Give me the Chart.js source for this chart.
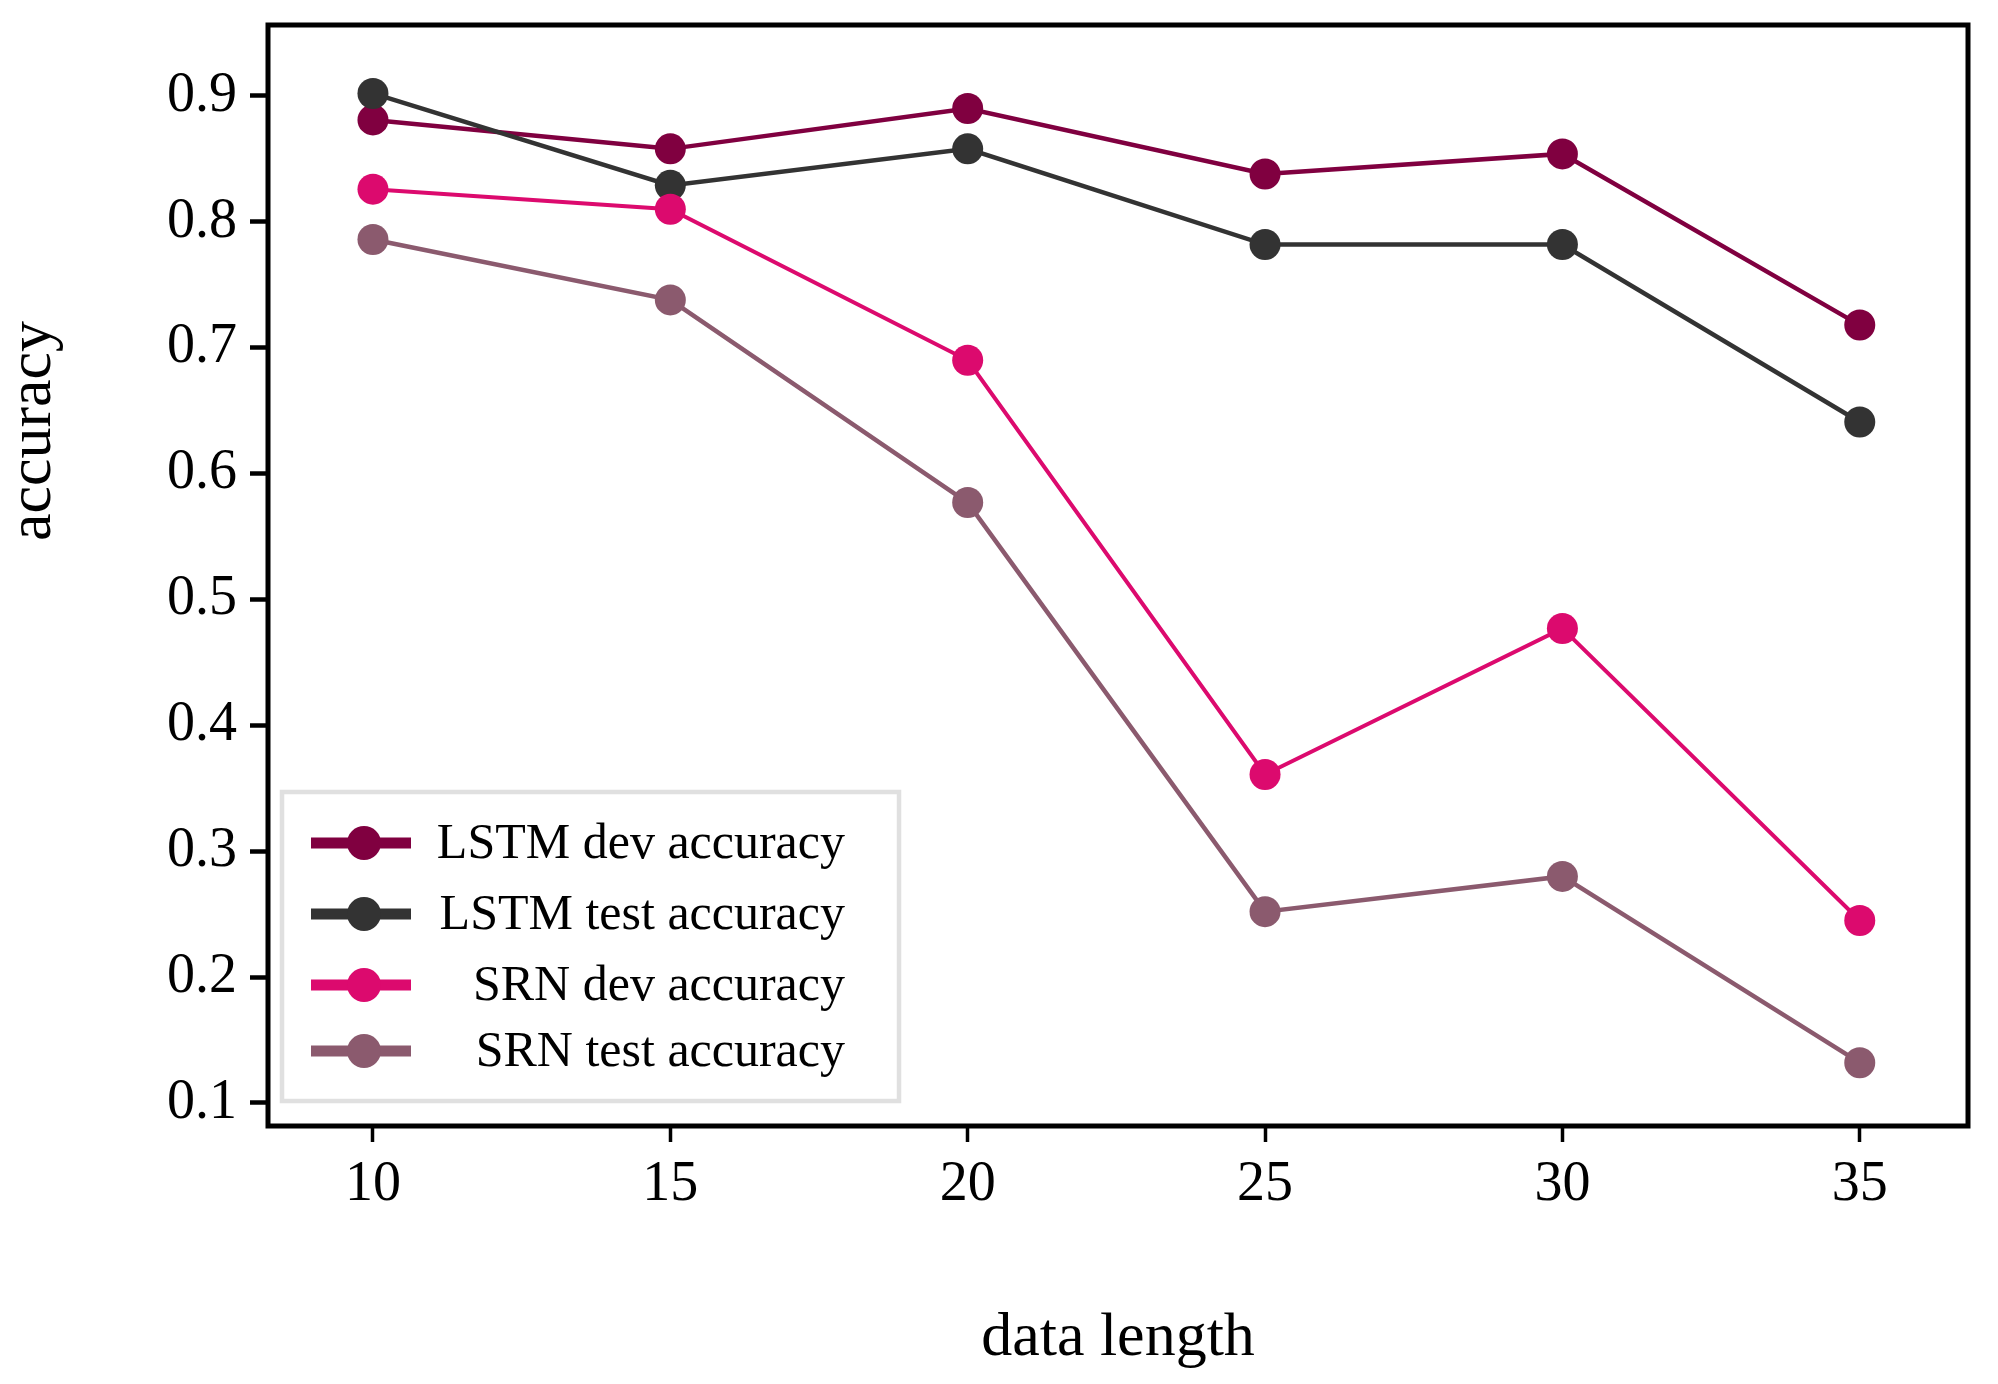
<!DOCTYPE html>
<html>
<head>
<meta charset="utf-8">
<script src="https://cdn.jsdelivr.net/npm/chart.js@4.4.1/dist/chart.umd.min.js"></script>
<style>
  html, body { margin: 0; padding: 0; background: #fff; }
  #wrap { width: 1998px; height: 1384px; }
</style>
</head>
<body>
<div id="wrap"><canvas id="chart" width="1998" height="1384"></canvas></div>
<script>
// data length values on the x axis
const DATA_LENGTH = [10, 15, 20, 25, 30, 35];
const X_TICKS = [10, 15, 20, 25, 30, 35];
const Y_TICKS = [0.1, 0.2, 0.3, 0.4, 0.5, 0.6, 0.7, 0.8, 0.9];

const SERIES_LABELS = ["LSTM dev accuracy", "LSTM test accuracy", "SRN dev accuracy", "SRN test accuracy"];
const LSTM_DEV = [0.881, 0.858, 0.890, 0.838, 0.854, 0.718];
const LSTM_TEST = [0.902, 0.829, 0.858, 0.782, 0.782, 0.641];
const SRN_DEV = [0.826, 0.810, 0.690, 0.361, 0.477, 0.245];
const SRN_TEST = [0.786, 0.738, 0.577, 0.252, 0.280, 0.132];

const COLORS = ["#800040", "#333333", "#dc0a6e", "#8b5a6e"];
const FONT = "'Liberation Serif', 'DejaVu Serif', serif";

function toPoints(values) {
  return values.map((v, i) => ({ x: DATA_LENGTH[i], y: v }));
}

const seriesValues = [LSTM_DEV, LSTM_TEST, SRN_DEV, SRN_TEST];

const datasets = seriesValues.map((vals, i) => ({
  label: SERIES_LABELS[i],
  data: toPoints(vals),
  borderColor: COLORS[i],
  backgroundColor: COLORS[i],
  pointBackgroundColor: COLORS[i],
  pointBorderWidth: 0,
  pointRadius: 15.5,
  borderWidth: i === 2 ? 4 : 4.5,
  tension: 0,
  order: 4 - i, // later series on top, like matplotlib
}));

// frame around the plot + legend box + y title
const framePlugin = {
  id: "frame",
  afterDatasetsDraw(chart) {
    const { ctx, chartArea: a } = chart;
    ctx.save();
    ctx.strokeStyle = "#000";
    ctx.lineWidth = 5;
    ctx.strokeRect(a.left, a.top, a.right - a.left, a.bottom - a.top);
    ctx.restore();
  },
  afterDraw(chart) {
    const { ctx } = chart;
    ctx.save();

    // y axis title (sits above the centre in the reference)
    ctx.fillStyle = "#000";
    ctx.font = "62px " + FONT;
    ctx.translate(50, 431);
    ctx.rotate(-Math.PI / 2);
    ctx.textAlign = "center";
    ctx.textBaseline = "alphabetic";
    ctx.fillText("accuracy", 0, 0);
    ctx.restore();

    // legend
    ctx.save();
    ctx.fillStyle = "#fff";
    ctx.fillRect(282, 792, 617, 309);
    ctx.strokeStyle = "#e0e0e0";
    ctx.lineWidth = 4.5;
    ctx.strokeRect(282, 792, 617, 309);

    const rows = [843, 914, 985, 1051];
    chart.data.datasets.forEach((ds, i) => {
      const cy = rows[i];
      ctx.strokeStyle = ds.borderColor;
      ctx.lineWidth = 11;
      ctx.beginPath();
      ctx.moveTo(311, cy);
      ctx.lineTo(411, cy);
      ctx.stroke();

      ctx.fillStyle = ds.borderColor;
      ctx.beginPath();
      ctx.arc(364, cy, 17, 0, Math.PI * 2);
      ctx.fill();

      ctx.fillStyle = "#000";
      ctx.font = "50px " + FONT;
      ctx.textAlign = "right";
      ctx.textBaseline = "alphabetic";
      ctx.fillText(ds.label, 845, cy + 15);
    });
    ctx.restore();
  },
};

new Chart(document.getElementById("chart"), {
  type: "line",
  data: { datasets },
  options: {
    responsive: false,
    animation: false,
    layout: { padding: { top: 25, right: 30, bottom: 0, left: 0 } },
    plugins: {
      legend: { display: false },
      tooltip: { enabled: false },
    },
    scales: {
      x: {
        type: "linear",
        min: 8.235,
        max: 36.82,
        afterBuildTicks: (scale) => {
          scale.ticks = X_TICKS.map((v) => ({ value: v }));
        },
        afterFit: (scale) => {
          scale.height = 258;
          scale.paddingLeft = 0;
          scale.paddingRight = 0;
        },
        border: { display: false },
        grid: {
          drawOnChartArea: false,
          drawTicks: true,
          tickLength: 16,
          tickWidth: 3.5,
          tickColor: "#000",
        },
        ticks: {
          color: "#000",
          padding: 10,
          maxRotation: 0,
          font: { family: FONT, size: 56 },
          callback: (v) => String(v),
        },
        title: {
          display: true,
          text: "data length",
          color: "#000",
          font: { family: FONT, size: 62 },
          padding: { top: 0, bottom: 8 },
        },
      },
      y: {
        type: "linear",
        min: 0.0817,
        max: 0.9564,
        afterBuildTicks: (scale) => {
          scale.ticks = Y_TICKS.map((v) => ({ value: v }));
        },
        afterFit: (scale) => {
          scale.width = 268;
          scale.paddingTop = 0;
          scale.paddingBottom = 0;
        },
        border: { display: false },
        grid: {
          drawOnChartArea: false,
          drawTicks: true,
          tickLength: 18,
          tickWidth: 4.5,
          tickColor: "#000",
        },
        ticks: {
          color: "#000",
          padding: 13,
          font: { family: FONT, size: 56 },
          callback: (v) => v.toFixed(1),
        },
      },
    },
  },
  plugins: [framePlugin],
});
</script>
</body>
</html>
